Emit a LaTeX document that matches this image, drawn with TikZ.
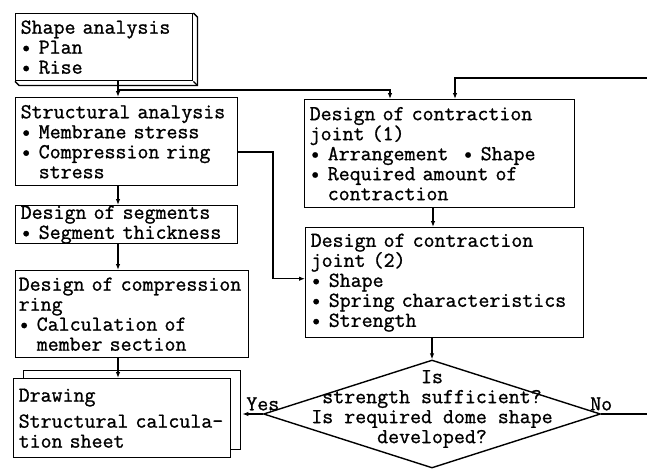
\documentclass[tikz,border=0pt]{standalone}
\usepackage{fontspec}
\newfontfamily\typefont{Latin Modern Mono}[FakeBold=1]
\usetikzlibrary{arrows.meta,positioning,calc,shapes.geometric,shadows}
\newcommand{\typed}{\fontsize{21.3}{20}\selectfont\typefont}
\newcommand{\pad}{\phantom{• }}

\begin{document}
\begin{tikzpicture}[x=1pt,y=-1pt,>=Latex,
  stage/.style={draw,fill=white,line width=1.4pt,anchor=north west,align=left,
    inner xsep=5pt,inner ysep=0pt,font=\typed},
  boxsize/.style n args={2}{text width=#1,minimum height=#2},
  decision/.style={diamond,draw,line width=1.4pt,inner sep=0pt,
    minimum width=337,minimum height=108},
  flow/.style={-{Latex[length=6pt,width=4.5pt]},line width=1.1pt},
  answer/.style={font=\typed,inner sep=0pt,above=3pt}]
  \useasboundingbox (0,0) rectangle (647,471);
  % left column
  \node[stage,boxsize={167pt}{67pt}] (shape) at (15,13)
    {Shape analysis\\• Plan\\• Rise};
  \node[stage,boxsize={212pt}{88pt}] (struct) at (15,97)
    {Structural analysis\\• Membrane stress\\• Compression ring\\\pad stress};
  \node[stage,boxsize={212pt}{37pt}] (seg) at (15,205)
    {Design of segments\\• Segment thickness};
  \node[stage,boxsize={227pt}{87pt},inner xsep=3pt] (ring) at (15,270)
    {Design of compression\\ring\\• Calculation of\\\pad member section};
  \node[stage,boxsize={207pt}{79pt},
    general shadow={draw,fill=white,line width=1.4pt,shadow xshift=10pt,shadow yshift=8pt}]
    (drw) at (13,378)
    {Drawing\\[6pt]Structural calcula-\\tion sheet};
  % right column
  \node[stage,boxsize={260pt}{108pt}] (cj1) at (304,99)
    {Design of contraction\\joint (1)\\• Arrangement~~• Shape\\• Required amount of\\\pad contraction};
  \node[stage,boxsize={268pt}{110pt}] (cj2) at (305,227)
    {Design of contraction\\joint (2)\\• Shape\\• Spring characteristics\\• Strength};
  \node[decision] (chk) at (432,414) {};
  \node[font=\typed,align=center,inner sep=0pt] (ask) at ([yshift=5pt]chk.center)
    {Is\\strength sufficient?\\Is required dome shape\\developed?};
  % slab edge of the first box
  \draw[line width=1.3pt] (shape.north east) -- ++(4,4)
    -- ($(shape.south east)+(4,4)$) -- ($(shape.south west)+(4,4)$) -- (shape.south west);
  \draw[line width=1.3pt] (shape.south east) -- ++(4,4);
  % routing points
  \coordinate (spine) at (118,0);
  \coordinate (split) at (118,90);
  \coordinate (tap) at (390,0);
  \coordinate (back) at (455,78);
  \coordinate (side) at (273,0);
  \coordinate (midx) at (433,0);
  \coordinate (far) at (680,0);
  % connectors
  \draw[flow] (shape.south -| spine) -- (struct.north -| spine);
  \draw[flow] (split) -| (cj1.north -| tap);
  \draw[flow] (struct.south -| spine) -- (seg.north -| spine);
  \draw[flow] (seg.south -| spine) -- (ring.north -| spine);
  \draw[flow] (ring.south -| spine) -- (drw.north -| spine);
  \draw[flow] ($(struct.north east)+(0,55)$) -| ($(side |- cj2.west)+(0,-4)$)
    -- ([yshift=4pt]cj2.west);
  \draw[flow] (cj1.south -| midx) -- (cj2.north -| midx);
  \draw[flow] (cj2.south -| chk.north) -- (chk.north);
  \draw[flow] (chk.west) node[answer]{Yes} -- ($(chk.west -| drw.east)+(11,0)$);
  \draw[flow] (chk.east) node[answer]{No} -- (chk.east -| far) |- (back)
    -- (cj1.north -| back);
\end{tikzpicture}
\end{document}
